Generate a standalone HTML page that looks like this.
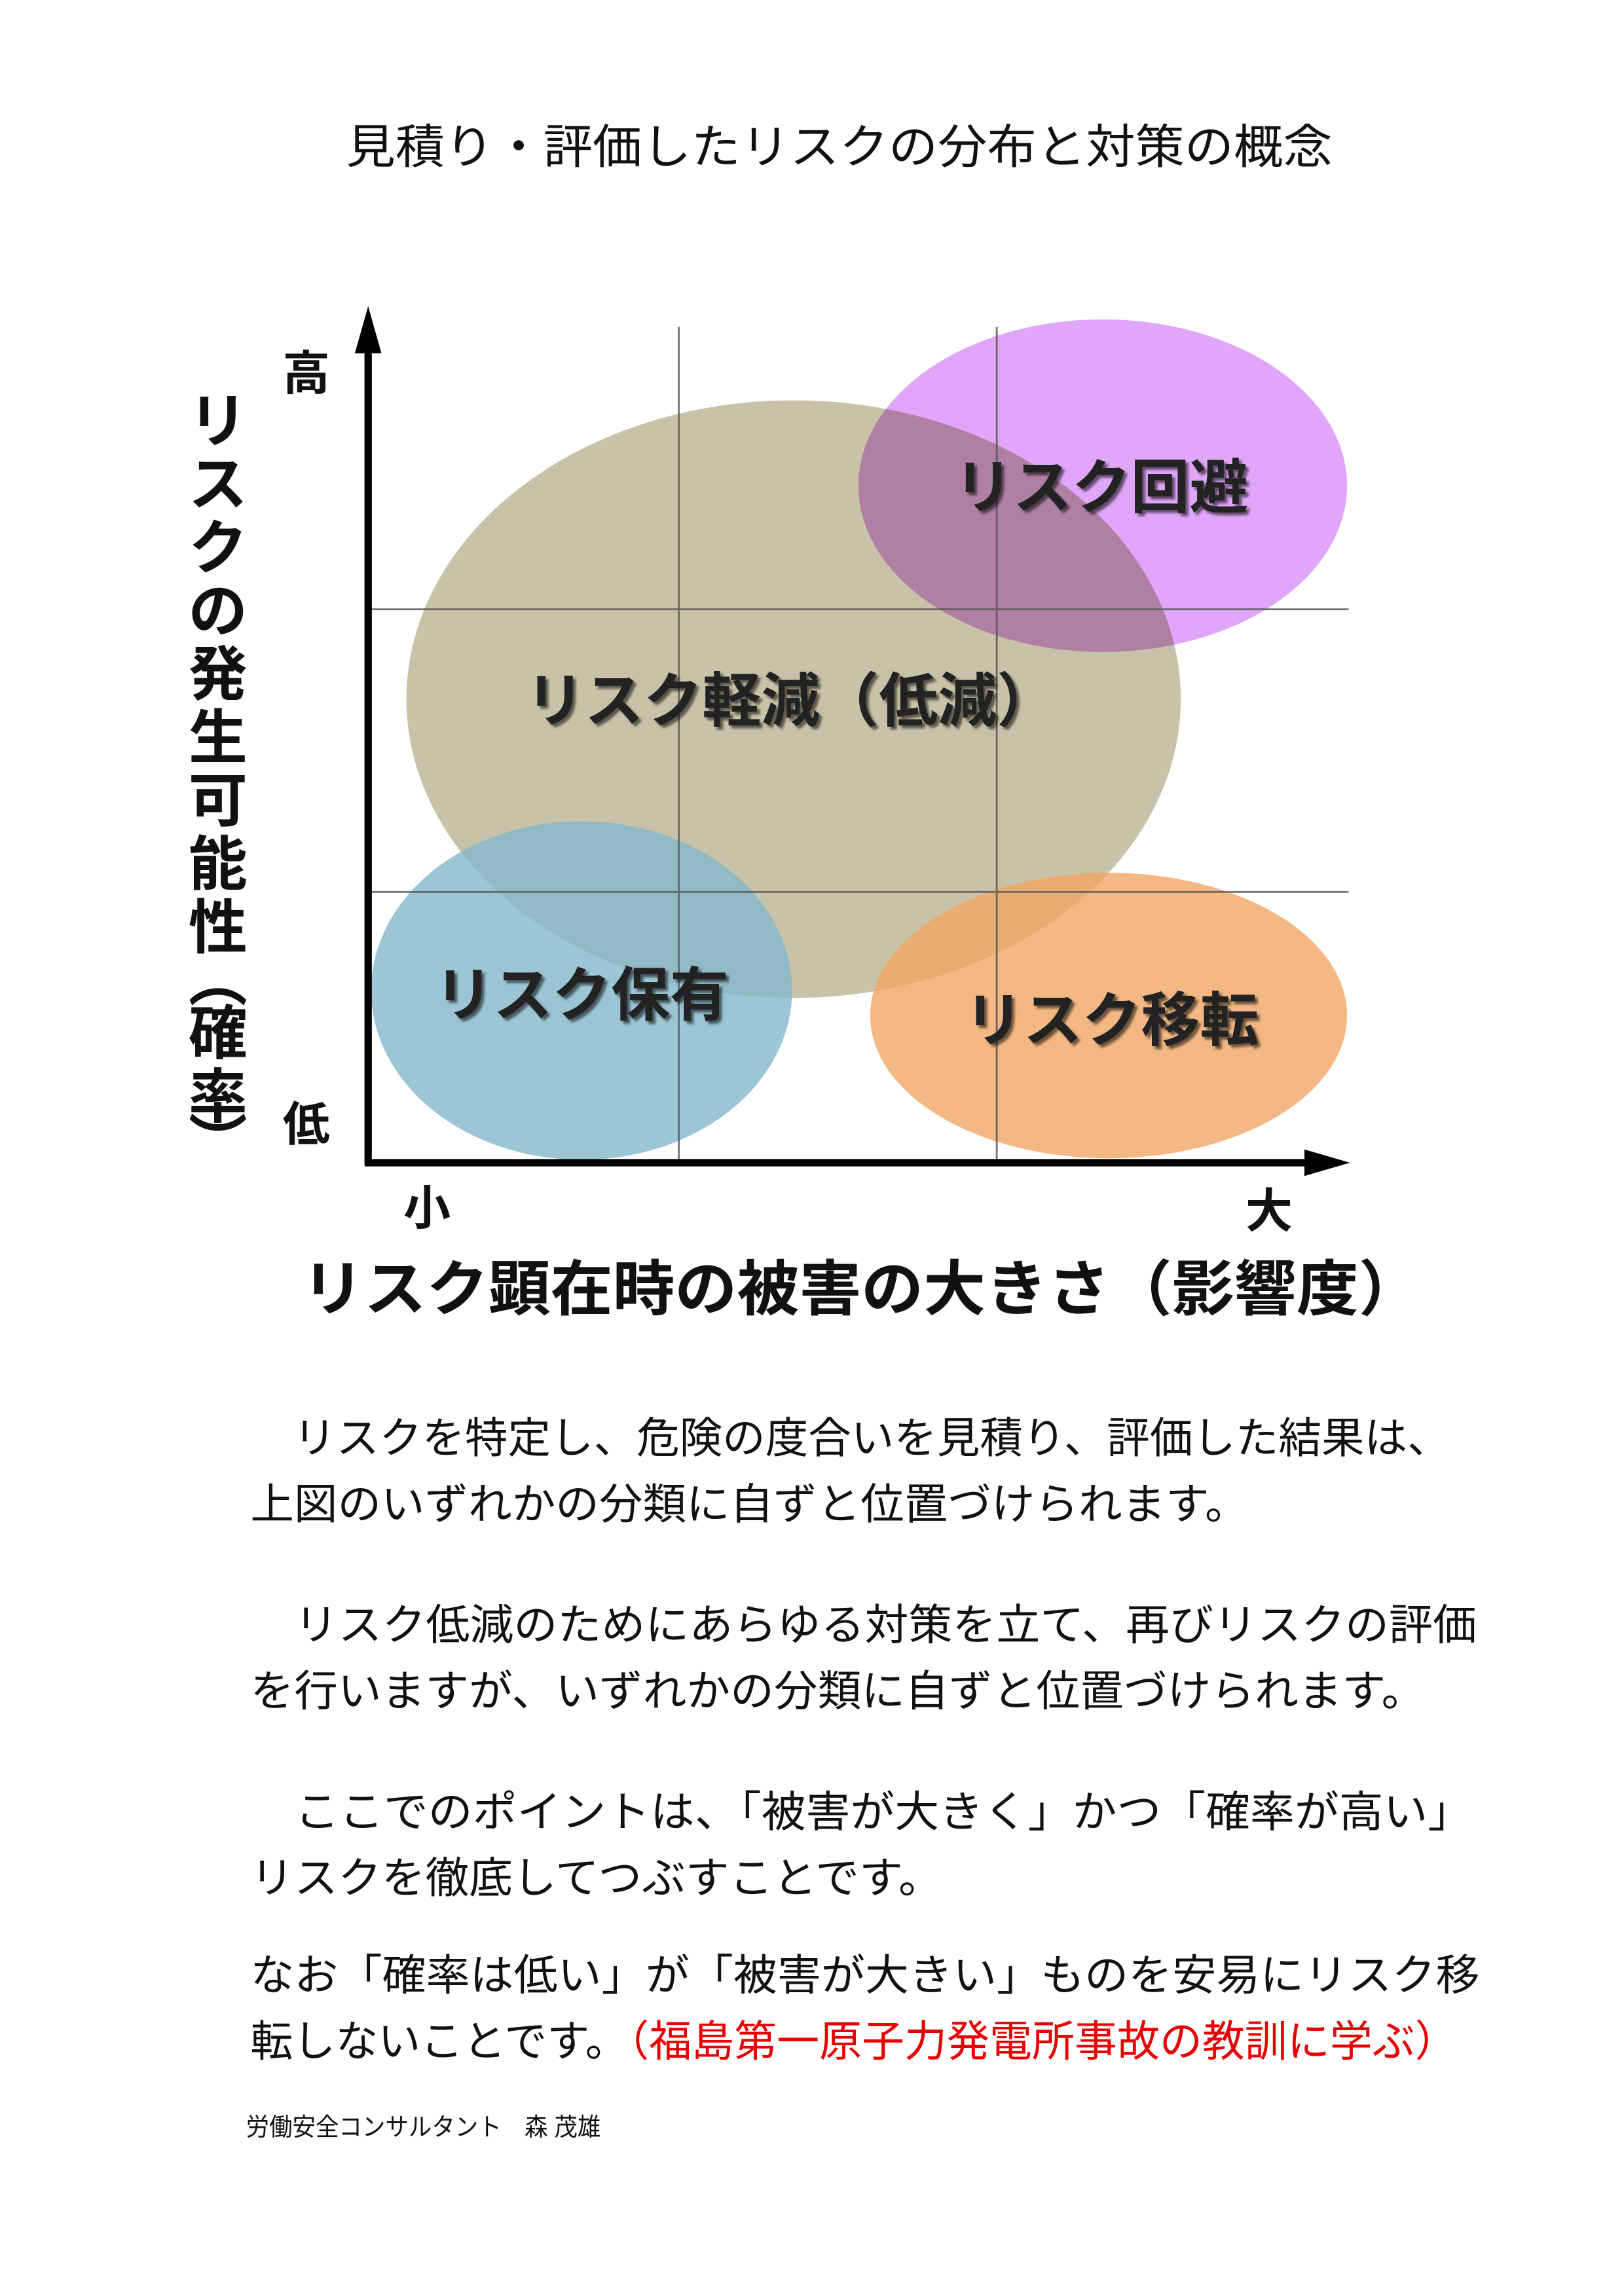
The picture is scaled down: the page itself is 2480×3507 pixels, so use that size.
<!DOCTYPE html>
<html><head><meta charset="utf-8"><style>
html,body{margin:0;padding:0;background:#fff;}
svg{display:block;}
text{font-family:"Liberation Sans","Noto Sans CJK JP",sans-serif;}
</style></head><body>
<svg width="2480" height="3507" viewBox="0 0 1103 1560" xmlns="http://www.w3.org/2000/svg">
<defs>
<filter id="sh" x="-10%" y="-10%" width="120%" height="130%"><feDropShadow dx="2" dy="2" stdDeviation="0.8" flood-color="#000" flood-opacity="0.55"/></filter>
</defs>
<rect width="1103" height="1560" fill="#fff"/>
<text x="235" y="111" font-size="32" textLength="670" lengthAdjust="spacingAndGlyphs" fill="#111">見積り・評価したリスクの分布と対策の概念</text>

<!-- ellipses -->
<ellipse cx="539" cy="475" rx="263" ry="203" fill="#c8c3a8"/>
<ellipse cx="749" cy="330" rx="166" ry="113" fill="#d890f8" opacity="0.8" style="mix-blend-mode:multiply"/>
<ellipse cx="395" cy="673" rx="143" ry="115" fill="#86b8cc" opacity="0.82"/>
<ellipse cx="753" cy="690" rx="162" ry="97" fill="#f0a868" opacity="0.82"/>

<!-- grid -->
<g stroke="#555" stroke-width="1.3" opacity="0.8">
<line x1="461" y1="222" x2="461" y2="790"/>
<line x1="677" y1="222" x2="677" y2="790"/>
<line x1="250" y1="414" x2="916" y2="414"/>
<line x1="250" y1="606" x2="916" y2="606"/>
</g>
<!-- axes -->
<line x1="250" y1="230" x2="250" y2="792" stroke="#000" stroke-width="5"/>
<polygon points="250,208 241,240 259,240" fill="#000"/>
<line x1="248" y1="790" x2="895" y2="790" stroke="#000" stroke-width="5"/>
<polygon points="917,790 886,781 886,799" fill="#000"/>

<!-- labels in chart -->
<g font-size="40" font-weight="bold" fill="#222" text-anchor="middle" filter="url(#sh)">
<text x="748" y="345">リスク回避</text>
<text x="537" y="490">リスク軽減（低減）</text>
<text x="395" y="690">リスク保有</text>
<text x="755" y="707">リスク移転</text>
</g>
<g font-size="32" font-weight="bold" fill="#111" text-anchor="middle">
<text x="208" y="265">高</text>
<text x="208" y="775">低</text>
<text x="290" y="832">小</text>
<text x="862" y="834">大</text>
</g>
<!-- vertical axis label -->
<g font-size="40" font-weight="bold" fill="#111" text-anchor="middle">
<text x="148" y="300">リ</text>
<text x="148" y="343">ス</text>
<text x="148" y="386">ク</text>
<text x="148" y="429">の</text>
<text x="148" y="472">発</text>
<text x="148" y="515">生</text>
<text x="148" y="558">可</text>
<text x="148" y="601">能</text>
<text x="148" y="644">性</text>
<text x="148" y="680">︵</text>
<text x="148" y="716">確</text>
<text x="148" y="759">率</text>
<text x="148" y="790">︶</text>
</g>
<text x="205" y="890" font-size="41" font-weight="bold" fill="#111" textLength="760" lengthAdjust="spacingAndGlyphs">リスク顕在時の被害の大きさ（影響度）</text>

<!-- paragraphs -->
<g font-size="29" fill="#111" lengthAdjust="spacingAndGlyphs">
<text x="170" y="987" textLength="815" lengthAdjust="spacingAndGlyphs">　リスクを特定し、危険の度合いを見積り、評価した結果は、</text>
<text x="170" y="1032" textLength="678" lengthAdjust="spacingAndGlyphs">上図のいずれかの分類に自ずと位置づけられます。</text>
<text x="170" y="1114" textLength="833" lengthAdjust="spacingAndGlyphs">　リスク低減のためにあらゆる対策を立て、再びリスクの評価</text>
<text x="170" y="1159" textLength="798" lengthAdjust="spacingAndGlyphs">を行いますが、いずれかの分類に自ずと位置づけられます。</text>
<text x="170" y="1241" textLength="830" lengthAdjust="spacingAndGlyphs">　ここでのポイントは、「被害が大きく」かつ「確率が高い」</text>
<text x="170" y="1286" textLength="470" lengthAdjust="spacingAndGlyphs">リスクを徹底してつぶすことです。</text>
<text x="170" y="1352" textLength="835" lengthAdjust="spacingAndGlyphs">なお「確率は低い」が「被害が大きい」ものを安易にリスク移</text>
<text x="170" y="1397" textLength="820" lengthAdjust="spacingAndGlyphs">転しないことです。<tspan fill="#e60000">（福島第一原子力発電所事故の教訓に学ぶ）</tspan></text>
</g>
<text x="167" y="1451" font-size="17" fill="#111" textLength="241" lengthAdjust="spacingAndGlyphs">労働安全コンサルタント　森 茂雄</text>
</svg>
</body></html>
